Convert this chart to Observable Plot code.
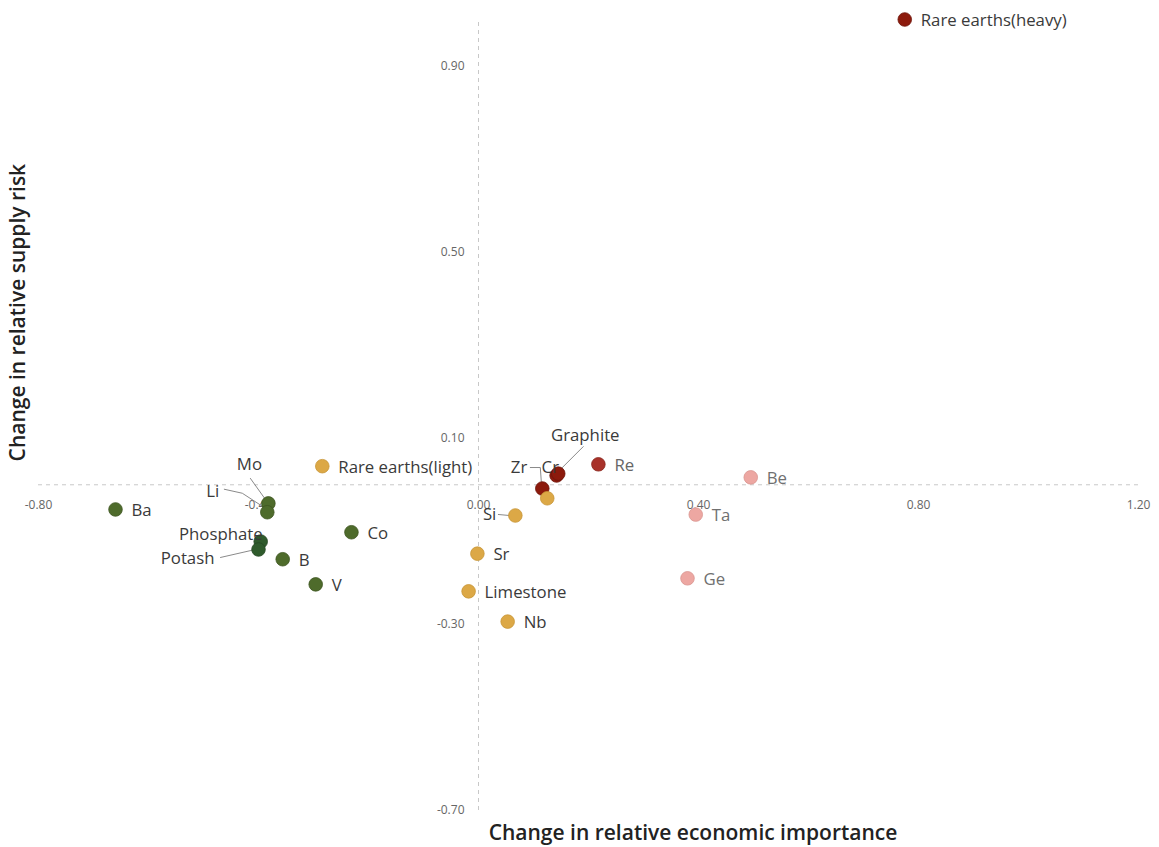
<!DOCTYPE html>
<html>
<head>
<meta charset="utf-8">
<script src="https://cdn.jsdelivr.net/npm/d3@7"></script>
<script src="https://cdn.jsdelivr.net/npm/@observablehq/plot@0.6"></script>
<style>
  html, body { margin: 0; padding: 0; background: #fff; }
  #chart svg { display: block; }
</style>
</head>
<body>
<div id="chart"></div>
<script>
// ---- Data ----
const names = ["Rare earths(heavy)", "Ba", "Mo", "Li", "Phosphate", "Potash", "B", "V", "Co",
  "Rare earths(light)", "Si", "Sr", "Limestone", "Nb", "Zr", "Cr", "Graphite", "", "Re", "Be", "Ta", "Ge"];
const econImportance = [0.775, -0.660, -0.382, -0.384, -0.396, -0.400, -0.356, -0.296, -0.231,
  -0.284, 0.067, -0.002, -0.018, 0.053, 0.116, 0.142, 0.145, 0.125, 0.218, 0.495, 0.395, 0.380];
const supplyRisk = [1.000, -0.053, -0.040, -0.059, -0.122, -0.139, -0.160, -0.214, -0.102,
  0.040, -0.066, -0.148, -0.229, -0.294, -0.008, 0.020, 0.024, -0.029, 0.044, 0.016, -0.064, -0.201];
const groups = ["darkred", "green", "green", "green", "deepgreen", "deepgreen", "green", "green", "green",
  "gold", "gold", "gold", "gold", "gold", "darkred", "darkred", "darkred", "gold", "red", "pink", "pink", "pink"];
const xTicks = [-0.8, -0.4, 0.0, 0.4, 0.8, 1.2];
const yTicks = [-0.7, -0.3, 0.1, 0.5, 0.9];
const xTitle = "Change in relative economic importance";
const yTitle = "Change in relative supply risk";

// ---- Styles / layout ----
const groupColors = {darkred: "#8c1a0c", red: "#a8322a", green: "#4e6b2b", deepgreen: "#2f5b2c", gold: "#dca846", pink: "#eda7a2"};
const groupStroke = {darkred: "#6e140a", red: "#8a2820", green: "#3d5621", deepgreen: "#244823", gold: "#c89536", pink: "#d99590"};
const labelColors = {darkred: "#3a3a3a", red: "#666666", green: "#3a3a3a", deepgreen: "#3a3a3a", gold: "#3a3a3a", pink: "#707070"};
const W = 1159, H = 847, mL = 38, mR = 21, mT = 19, mB = 37;
const xDom = [-0.8, 1.2], yDom = [-0.7, 1.0];
const kx = (W - mL - mR) / (xDom[1] - xDom[0]);
const ky = (H - mT - mB) / (yDom[1] - yDom[0]);
// label placement in pixel offsets [dx, dy, anchor, leader]
const labelLayout = {
  "Mo": [-19, -39, "middle", [[-18, -25], [-3, -4]]],
  "Li": [-48, -21, "end", [[-43, -23], [-25, -19], [-5, -6]]],
  "Phosphate": [2, -7, "end", null],
  "Potash": [-44, 9, "end", [[-38, 8], [-3, 0]]],
  "Zr": [-15, -21, "end", [[-12, -21], [-2, -21], [-1, -7]]],
  "Cr": [-15, -8, "start", null],
  "Graphite": [27, -38, "middle", [[25, -27], [3, -5]]],
  "Si": [-19, -1, "end", [[-17, -1], [-6, 0]]]
};

const pts = names.map((n, i) => ({name: n, x: econImportance[i], y: supplyRisk[i], g: groups[i]}));
const labels = pts.filter(d => d.name !== "").map(d => {
  const L = labelLayout[d.name] || [16, 1, "start", null];
  return {...d, lx: d.x + L[0] / kx, ly: d.y - L[1] / ky, anchor: L[2]};
});
const leaders = [];
pts.forEach(d => {
  const L = labelLayout[d.name];
  if (L && L[3]) L[3].forEach(([dx, dy]) => leaders.push({name: d.name, x: d.x + dx / kx, y: d.y - dy / ky}));
});
const fmt = v => v.toFixed(2);

const font = "'Open Sans', 'Noto Sans', sans-serif";
const chart = Plot.plot({
  width: W, height: H,
  marginLeft: mL, marginRight: mR, marginTop: mT, marginBottom: mB,
  x: {domain: xDom, axis: null},
  y: {domain: yDom, axis: null},
  color: {type: "identity"},
  style: {fontFamily: font, background: "#fff"},
  marks: [
    Plot.ruleY([0], {x1: xDom[0], x2: xDom[1], stroke: "#c8c8c8", strokeDasharray: "4,4", strokeWidth: 1}),
    Plot.ruleX([0], {y1: yDom[0], y2: yDom[1], stroke: "#c8c8c8", strokeDasharray: "4,4", strokeWidth: 1}),
    Plot.text(xTicks, {x: d => d, y: 0, text: fmt, dy: 20, fill: "#666", fontSize: 12}),
    Plot.text(yTicks, {x: 0, y: d => d, text: fmt, dx: -14, textAnchor: "end", fill: "#666", fontSize: 12}),
    Plot.line(leaders, {x: "x", y: "y", z: "name", stroke: "#8a8a8a", strokeWidth: 1, curve: "linear"}),
    Plot.dot(pts, {x: "x", y: "y", r: 6.8, fill: d => groupColors[d.g], stroke: d => groupStroke[d.g], strokeWidth: 0.8}),
    ...["start", "middle", "end"].map(a => Plot.text(labels.filter(d => d.anchor === a), {
      x: "lx", y: "ly", text: "name", textAnchor: a, fill: d => labelColors[d.g], fontSize: 16.8
    })),
    Plot.text([xTitle], {x: 0.39, frameAnchor: "bottom", dy: 23, lineAnchor: "middle", textAnchor: "middle", text: d => d, fontSize: 21, fontWeight: 600, fill: "#222"}),
    Plot.text([yTitle], {y: 0.37, frameAnchor: "left", dx: -20, rotate: -90, lineAnchor: "middle", textAnchor: "middle", text: d => d, fontSize: 21, fontWeight: 600, fill: "#222"})
  ]
});
document.getElementById("chart").appendChild(chart);
</script>
</body>
</html>
